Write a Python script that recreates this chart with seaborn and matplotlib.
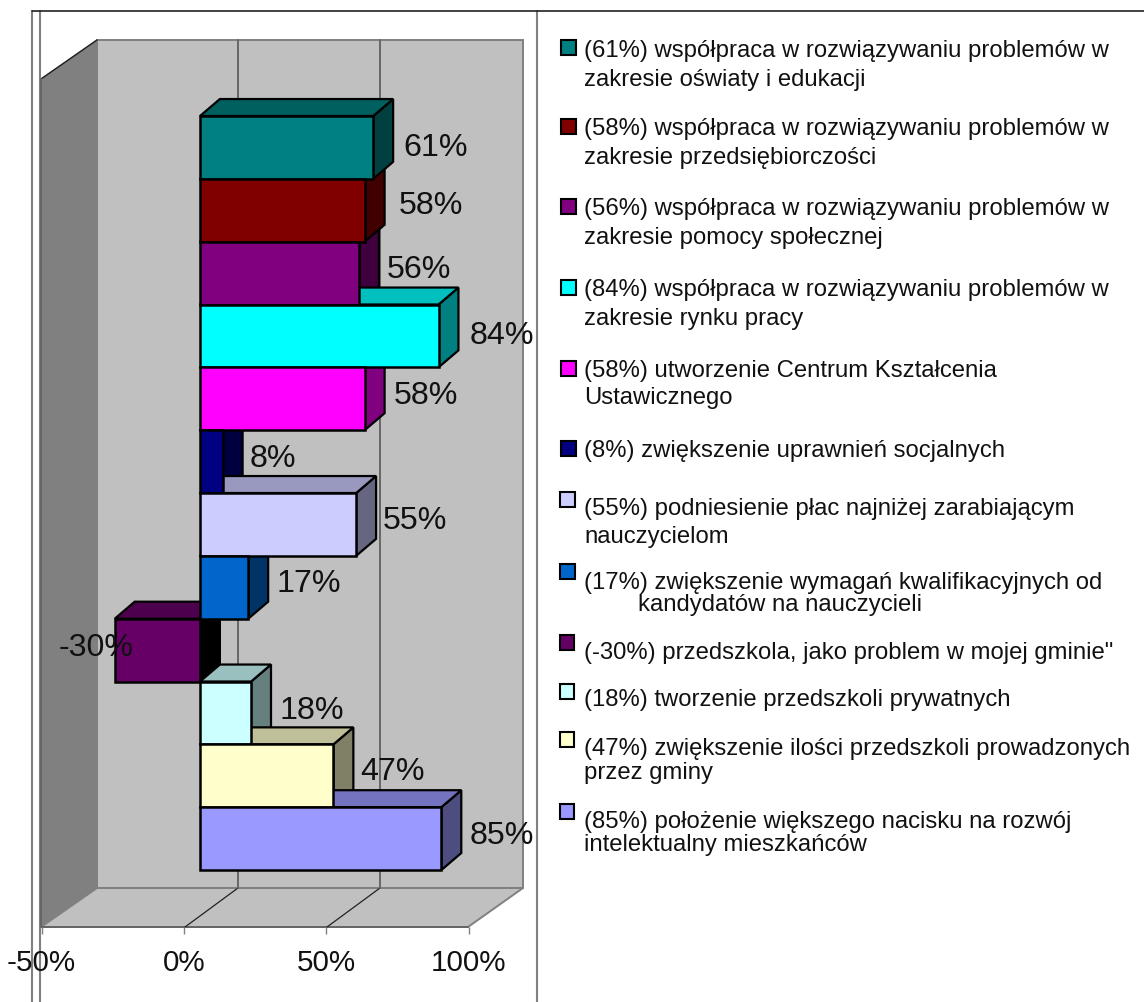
"""Horizontal pseudo-3D bar chart with a hand-placed legend column."""
import matplotlib
matplotlib.use("Agg")
import matplotlib.pyplot as plt
from matplotlib.patches import Polygon, Rectangle
import pandas as pd
import seaborn as sns

W, H = 1144, 1003

VALUES = [61, 58, 56, 84, 58, 8, 55, 17, -30, 18, 47, 85]
CATEGORIES = ["oswiata", "przedsiebiorczosc", "pomoc", "rynek pracy", "CKU", "uprawnienia",
              "place", "kwalifikacje", "przedszkola", "prywatne", "gminy", "rozwoj"]
COLORS = ["#008080", "#800000", "#800080", "#00FFFF", "#FF00FF", "#000080",
          "#CCCCFF", "#0066CC", "#660066", "#CCFFFF", "#FFFFCC", "#9999FF"]
XTICKS = [-50, 0, 50, 100]
LEGEND_LINE1 = [
    "(61%) współpraca w rozwiązywaniu problemów w",
    "(58%) współpraca w rozwiązywaniu problemów w",
    "(56%) współpraca w rozwiązywaniu problemów w",
    "(84%) współpraca w rozwiązywaniu problemów w",
    "(58%) utworzenie Centrum Kształcenia",
    "(8%) zwiększenie uprawnień socjalnych",
    "(55%) podniesienie płac najniżej zarabiającym",
    "(17%) zwiększenie wymagań kwalifikacyjnych od",
    "(-30%) przedszkola, jako problem w mojej gminie\"",
    "(18%) tworzenie przedszkoli prywatnych",
    "(47%) zwiększenie ilości przedszkoli prowadzonych",
    "(85%) położenie większego nacisku na rozwój",
]
LEGEND_LINE2 = [
    "zakresie oświaty i edukacji",
    "zakresie przedsiębiorczości",
    "zakresie pomocy społecznej",
    "zakresie rynku pracy",
    "Ustawicznego",
    "",
    "nauczycielom",
    "kandydatów na nauczycieli",
    "",
    "",
    "przez gminy",
    "intelektualny mieszkańców",
]

# layout, pixels from top left
Y1_TEXT = [50.5, 128.5, 208.5, 289.5, 370.5, 450.5, 509, 582.5, 653, 700, 749.5, 822]
Y2_TEXT = [79.5, 158, 238, 319, 398, 0, 537, 605, 0, 0, 773, 845]
Y_SWATCH = [48, 127, 207, 288, 369, 449, 500, 572, 643, 692, 740, 812]
X_SWATCH = [561, 561, 561, 561, 561, 561, 560, 560, 559.5, 559.5, 559.5, 559.5]
X2_TEXT = [584, 584, 584, 584, 584, 0, 584, 638, 0, 0, 584, 584]
LABEL_DX = [30, 34, 28, 31, 29, 27, 27, 28, 19, 28, 27, 28]
LABEL_DY = [0, 5, 4, 1, 4, 4, 4, 4, 3, 3, 5, 4]

sns.set_theme(style="white")
plt.rcParams["font.family"] = ["Liberation Sans", "DejaVu Sans"]

fig = plt.figure(figsize=(W / 100, H / 100), dpi=100)

# background layer in pixel coordinates: frame, chart walls, legend
bg = fig.add_axes([0, 0, 1, 1], zorder=0)
bg.set_xlim(0, W)
bg.set_ylim(H, 0)
bg.axis("off")

GRAY = "#808080"
for x in (32, 39.5, 537):
    bg.plot([x, x], [12, H], color=GRAY, lw=1.5)
bg.plot([32, W], [12, 12], color="#222222", lw=1.2)

bg.add_patch(Polygon([(97, 41), (523, 41), (523, 889), (97, 889)], fc="#C0C0C0", ec=GRAY, lw=1.4))
bg.add_patch(Polygon([(41, 80), (97, 41), (97, 889), (41, 928)], fc=GRAY, ec=GRAY, lw=1.0))
bg.add_patch(Polygon([(41, 928), (97, 889), (523, 889), (468, 928)], fc="#C0C0C0", ec=GRAY, lw=1.4))
bg.plot([41, 97], [80, 41], color="#222222", lw=1.0)
bg.plot([41, 468], [928, 928], color="#666666", lw=1.4)
bg.plot([41, 41], [80, 928], color="#666666", lw=1.4)
for x0, x1 in ((185, 238), (327, 380)):
    bg.plot([x0, x1], [928, 889], color="#222222", lw=0.9)
    bg.plot([x1, x1], [889, 41], color="#666666", lw=1.4)

for i, color in enumerate(COLORS):
    bg.add_patch(Rectangle((X_SWATCH[i], Y_SWATCH[i] - 7), 14.5, 14.5, fc=color, ec="black", lw=1.5))
    bg.text(584, Y1_TEXT[i], LEGEND_LINE1[i], fontsize=17.2, va="center", color="#111111")
    if LEGEND_LINE2[i]:
        bg.text(X2_TEXT[i], Y2_TEXT[i], LEGEND_LINE2[i], fontsize=17.2, va="center", color="#111111")

# value axis along the front floor edge
axis_ax = fig.add_axes([41.5 / W, 1 - 928 / H, 427 / W, 1 / H], zorder=1)
axis_ax.set_xlim(-50, 100)
axis_ax.patch.set_visible(False)
axis_ax.set_yticks([])
axis_ax.set_xticks(XTICKS)
axis_ax.set_xticklabels([f"{t}%" for t in XTICKS], fontsize=21.3, color="#111111")
axis_ax.tick_params(axis="x", length=5, width=1, color=GRAY, pad=10, bottom=True)
for s in axis_ax.spines.values():
    s.set_visible(False)

# bars sit in a plane set back from the front edge
ax = fig.add_axes([58 / W, 1 - 871 / H, 426 / W, 754 / H], zorder=2)
df = pd.DataFrame({"category": CATEGORIES, "value": VALUES})
sns.barplot(data=df, x="value", y="category", hue="category", palette=COLORS, order=CATEGORIES,
            hue_order=CATEGORIES, dodge=False, width=1.0, legend=False, saturation=1,
            edgecolor="black", linewidth=1.8, ax=ax)
ax.set_xlim(-50, 100)
ax.set_ylim(len(VALUES) - 0.5, -0.5)
ax.patch.set_visible(False)
ax.set_xticks([])
ax.set_yticks([])
ax.set_xlabel("")
ax.set_ylabel("")
for s in ax.spines.values():
    s.set_visible(False)


def shade(color, f):
    r, g, b = matplotlib.colors.to_rgb(color)
    return (r * f, g * f, b * f)


DX, DY = 7.0, 0.27  # bar depth in data units
bars = sorted([p for p in ax.patches if p.get_height() > 0], key=lambda p: p.get_y())
for i, (bar, v, color) in enumerate(zip(bars, VALUES, COLORS)):
    # longer bars cover the sides of shorter ones, all front faces go on top
    z = 3 + max(v, 0) / 10
    top, bottom = i - 0.5, i + 0.5
    lo, hi = min(v, 0), max(v, 0)
    side_color = "black" if v < 0 else shade(color, 0.5)
    ax.add_patch(Polygon([(hi, top), (hi + DX, top - DY), (hi + DX, bottom - DY), (hi, bottom)],
                         fc=side_color, ec="black", lw=1.6, zorder=z, clip_on=False))
    ax.add_patch(Polygon([(lo, top), (lo + DX, top - DY), (hi + DX, top - DY), (hi, top)],
                         fc=shade(color, 0.75), ec="black", lw=1.6, zorder=z + 0.01, clip_on=False))
    bar.set_zorder(50)
    bar.set_clip_on(False)
    ha = "right" if v < 0 else "left"
    ax.annotate(f"{v}%", (v, i), xytext=(LABEL_DX[i] * 0.72, LABEL_DY[i] * 0.72), textcoords="offset points",
                ha=ha, va="center", fontsize=23.2, color="#111111", zorder=60)

fig.savefig("out.png", dpi=100)
